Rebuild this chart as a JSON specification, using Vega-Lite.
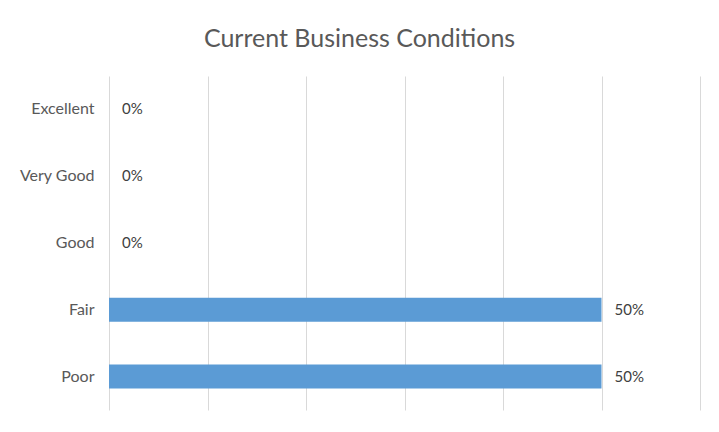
{
  "$schema": "https://vega.github.io/schema/vega-lite/v6.json",
  "autosize": "none",
  "width": 591,
  "height": 334,
  "padding": {"left": 109, "top": 76, "right": 19, "bottom": 22},
  "background": "white",
  "title": {
    "text": "Current Business Conditions",
    "font": "Lato",
    "fontSize": 25,
    "fontWeight": "normal",
    "color": "#595959",
    "anchor": "middle",
    "frame": "bounds",
    "offset": 24
  },
  "config": {
    "view": {"stroke": null},
    "font": "Lato"
  },
  "data": {
    "values": [
      {"rating": "Excellent", "share": 0},
      {"rating": "Very Good", "share": 0},
      {"rating": "Good", "share": 0},
      {"rating": "Fair", "share": 0.5},
      {"rating": "Poor", "share": 0.5}
    ]
  },
  "encoding": {
    "y": {
      "field": "rating",
      "type": "nominal",
      "sort": ["Excellent", "Very Good", "Good", "Fair", "Poor"],
      "scale": {"paddingInner": 0.64, "paddingOuter": 0.32},
      "axis": {
        "title": null,
        "domain": false,
        "ticks": false,
        "labelPadding": 15,
        "labelFontSize": 16,
        "labelColor": "#595959",
        "labelFont": "Lato"
      }
    },
    "x": {
      "field": "share",
      "type": "quantitative",
      "scale": {"domain": [0, 0.6], "nice": false},
      "axis": {
        "title": null,
        "labels": false,
        "ticks": false,
        "domain": false,
        "grid": true,
        "gridColor": "#d9d9d9",
        "gridWidth": 1,
        "values": [0, 0.1, 0.2, 0.3, 0.4, 0.5, 0.6]
      }
    }
  },
  "layer": [
    {"mark": {"type": "bar", "color": "#5B9BD5"}},
    {
      "mark": {"type": "text", "align": "left", "dx": 13, "fontSize": 15, "color": "#404040", "font": "Lato"},
      "encoding": {"text": {"field": "share", "type": "quantitative", "format": ".0%"}}
    }
  ]
}
